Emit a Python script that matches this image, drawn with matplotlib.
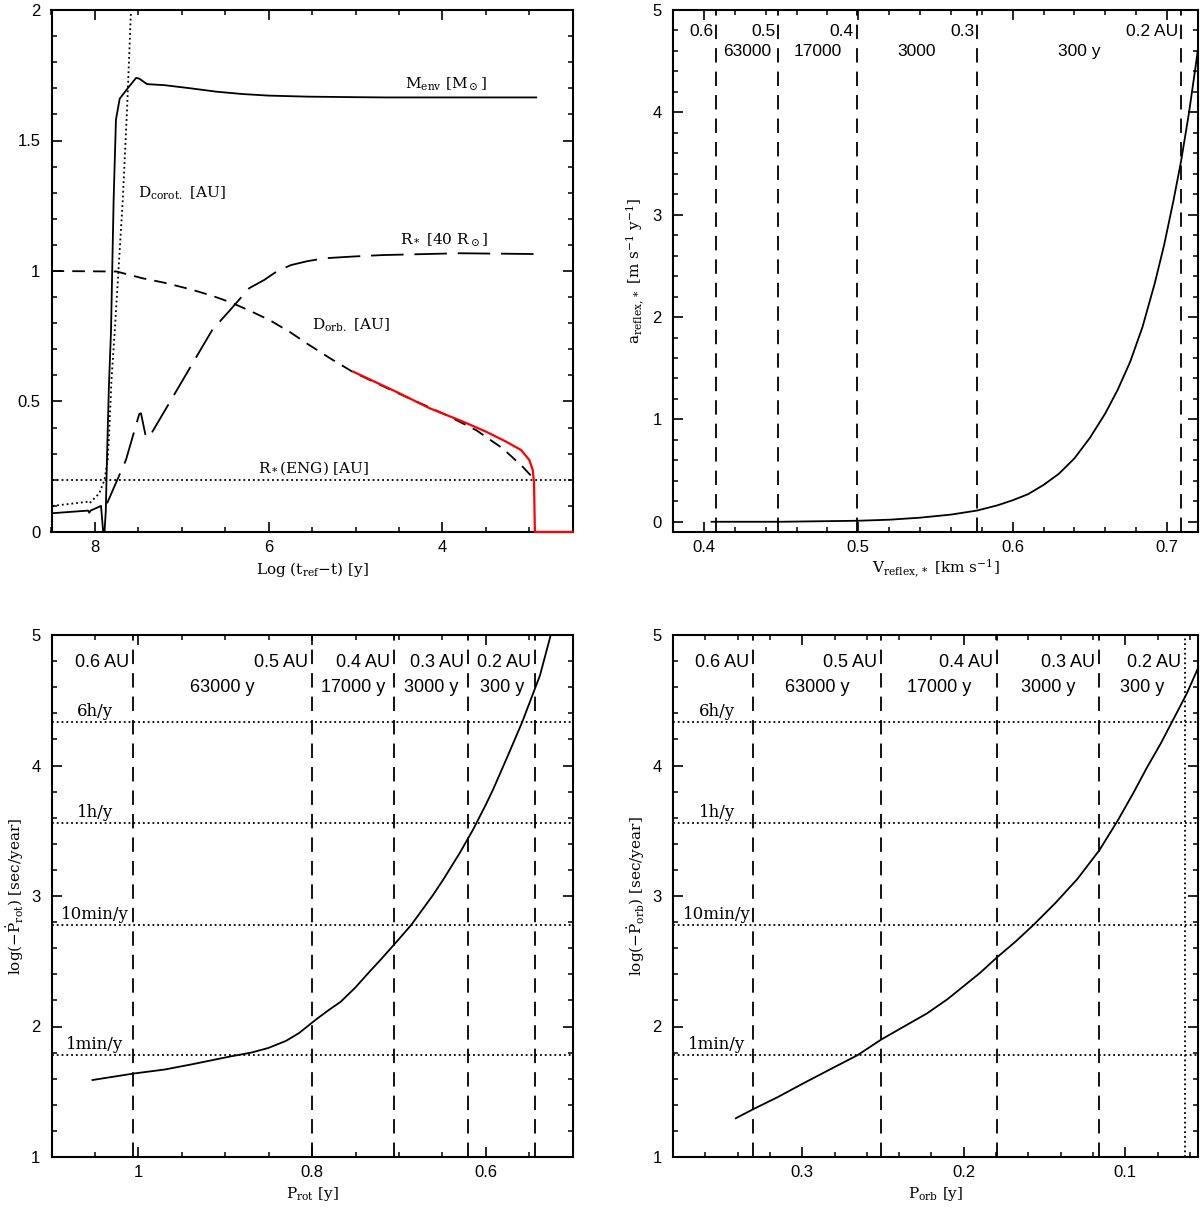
import matplotlib
matplotlib.use("Agg")
import matplotlib.pyplot as plt
from matplotlib.ticker import MultipleLocator, FuncFormatter

# ---- top-left: evolution with Log(t_ref - t) ----
t_menv = [8.49, 8.08, 8.065, 8.05, 7.93, 7.905, 7.89, 7.875, 7.86, 7.84, 7.815, 7.785,
          7.758, 7.715, 7.623, 7.526, 7.49, 7.40, 7.2, 6.9, 6.6, 6.3, 6.0, 5.55, 5.0,
          4.66, 3.5, 2.92]
menv = [0.072, 0.082, 0.074, 0.082, 0.10, 0.0, 0.0, 0.08, 0.3, 0.55, 0.77, 1.27,
        1.58, 1.66, 1.70, 1.74, 1.737, 1.716, 1.712, 1.70, 1.687, 1.678, 1.672, 1.668, 1.666,
        1.665, 1.665, 1.665]

t_corot = [8.49, 8.08, 8.06, 7.95, 7.89, 7.853, 7.835, 7.81, 7.77, 7.735, 7.68, 7.63, 7.585]
dcorot = [0.10, 0.116, 0.111, 0.148, 0.20, 0.276, 0.39, 0.58, 0.78, 0.97, 1.27, 1.62, 2.0]

t_rstar = [7.86, 7.643, 7.49, 7.47, 7.414, 7.376, 6.65, 6.445, 6.225, 6.05, 5.9, 5.74, 5.55,
           5.35, 5.0, 4.69, 3.81, 2.92]
rstar = [0.11, 0.276, 0.452, 0.455, 0.365, 0.363, 0.774, 0.85, 0.934, 0.966, 1.0, 1.023, 1.038,
         1.049, 1.056, 1.061, 1.068, 1.065]

t_dorb = [8.5, 7.75, 7.6, 7.45, 7.2, 6.9, 6.65, 6.43, 6.2, 5.99, 5.75, 5.55, 5.29, 5.025,
          4.5, 3.954, 3.61, 3.305, 3.076, 2.953]
dorb = [1.0, 0.998, 0.985, 0.972, 0.955, 0.93, 0.905, 0.879, 0.845, 0.812, 0.765, 0.72, 0.665,
        0.612, 0.53, 0.448, 0.39, 0.32, 0.25, 0.206]

t_red = [5.025, 4.53, 4.146, 3.764, 3.495, 3.266, 3.094, 3.0, 2.96, 2.945, 2.938, 2.935, 2.5]
dorb_red = [0.614, 0.537, 0.474, 0.423, 0.384, 0.346, 0.314, 0.276, 0.238, 0.187, 0.05, 0.0, 0.0]

r_eng = 0.2

# ---- top-right: reflex acceleration vs reflex velocity ----
v_reflex = [0.405, 0.45, 0.50, 0.52, 0.54, 0.56, 0.577, 0.59, 0.60, 0.61, 0.62, 0.63, 0.64,
            0.65, 0.66, 0.668, 0.676, 0.684, 0.692, 0.698, 0.704, 0.709, 0.714, 0.718, 0.72]
a_reflex = [0.0, 0.0, 0.01, 0.02, 0.04, 0.07, 0.11, 0.16, 0.21, 0.27, 0.36, 0.47, 0.62,
            0.82, 1.06, 1.29, 1.56, 1.90, 2.33, 2.70, 3.13, 3.52, 3.98, 4.40, 4.62]
v_lines = [0.408, 0.448, 0.499, 0.577, 0.709]
tr_au_labels = ["0.6", "0.5", "0.4", "0.3", "0.2 AU"]
tr_age_labels = ["63000", "17000", "3000", "300 y"]

# ---- bottom-left: rotation period derivative ----
p_rot = [1.0528, 1.005, 0.97, 0.9385, 0.8945, 0.87, 0.8506, 0.83, 0.815, 0.7943, 0.78, 0.767,
         0.75, 0.7366, 0.72, 0.70, 0.6857, 0.6616, 0.6486, 0.63, 0.6146, 0.60, 0.5914, 0.575,
         0.5583, 0.5377, 0.5253]
pdot_rot = [1.59, 1.64, 1.67, 1.71, 1.77, 1.80, 1.835, 1.89, 1.95, 2.06, 2.13, 2.19,
            2.30, 2.40, 2.52, 2.67, 2.78, 3.0, 3.13, 3.33, 3.51, 3.70, 3.82, 4.07,
            4.33, 4.69, 5.0]
prot_lines = [1.006, 0.800, 0.706, 0.620, 0.5435]

# ---- bottom-right: orbital period derivative ----
p_orb = [0.3411, 0.3304, 0.315, 0.30, 0.283, 0.2658, 0.2511, 0.237, 0.2228, 0.21, 0.20,
         0.19, 0.1794, 0.168, 0.1567, 0.143, 0.1297, 0.1161, 0.1046, 0.095, 0.0868, 0.078,
         0.070, 0.062, 0.0545]
pdot_orb = [1.297, 1.366, 1.46, 1.56, 1.67, 1.78, 1.90, 2.00, 2.10, 2.21, 2.31,
            2.41, 2.53, 2.65, 2.78, 2.95, 3.13, 3.35, 3.58, 3.79, 3.98, 4.17,
            4.36, 4.55, 4.76]
porb_lines = [0.3304, 0.2511, 0.1794, 0.1161, 0.0628]

au_labels = ["0.6 AU", "0.5 AU", "0.4 AU", "0.3 AU", "0.2 AU"]
age_labels = ["63000 y", "17000 y", "3000 y", "300 y"]
rate_levels = [4.334, 3.556, 2.778, 1.778]
rate_labels = ["6h/y", "1h/y", "10min/y", "1min/y"]

plt.rcParams.update({
    "font.family": "Liberation Sans",
    "font.size": 12,
    "mathtext.fontset": "dejavuserif",
    "axes.linewidth": 1.5,
    "xtick.direction": "in",
    "ytick.direction": "in",
    "xtick.top": True,
    "ytick.right": True,
    "xtick.major.size": 7,
    "ytick.major.size": 7,
    "xtick.minor.size": 3.6,
    "ytick.minor.size": 3.6,
    "xtick.major.width": 1.2,
    "ytick.major.width": 1.2,
    "xtick.minor.width": 1.1,
    "ytick.minor.width": 1.1,
    "xtick.major.pad": 6,
    "ytick.major.pad": 8,
})

W, H = 1200, 1208
SERIF = "DejaVu Serif"
LW = 1.3
SHORT_DASH = (0, (7, 4.5))
LONG_DASH = (0, (18, 6))
VDASH = (0, (8, 5))


def box(left, right, top, bottom):
    return [left / W, 1 - bottom / H, (right - left) / W, (bottom - top) / H]


def style_axes(ax, xmaj, xmin, ymaj, ymin):
    ax.xaxis.set_major_locator(MultipleLocator(xmaj))
    ax.xaxis.set_minor_locator(MultipleLocator(xmin))
    ax.yaxis.set_major_locator(MultipleLocator(ymaj))
    ax.yaxis.set_minor_locator(MultipleLocator(ymin))
    fmt = FuncFormatter(lambda v, p: f"{v:g}")
    ax.xaxis.set_major_formatter(fmt)
    ax.yaxis.set_major_formatter(fmt)
    ax.tick_params(which="both", top=True, right=True)


def set_labels(ax, xlabel, ylabel=None):
    ax.set_xlabel(xlabel, family=SERIF, fontsize=11)
    ax.xaxis.set_label_coords(0.5, -0.071)
    ax.xaxis.label.set_va("center")
    if ylabel:
        ax.set_ylabel(ylabel, family=SERIF, fontsize=11)
        ax.yaxis.set_label_coords(-0.07, 0.5)
        ax.yaxis.label.set_va("center")


fig = plt.figure(figsize=(W / 100, H / 100), dpi=100)

# top-left
ax = fig.add_axes(box(51.5, 572.7, 10, 532))
ax.plot(t_menv, menv, "k-", lw=LW)
ax.plot(t_corot, dcorot, "k:", lw=LW)
ax.plot(t_rstar, rstar, color="k", ls=LONG_DASH, lw=LW)
ax.plot(t_dorb, dorb, color="k", ls=SHORT_DASH, lw=LW)
ax.plot(t_red, dorb_red, color="red", lw=LW + 0.3, clip_on=False, zorder=3)
ax.axhline(r_eng, color="k", ls=":", lw=LW)
ax.set_xlim(8.5, 2.5)
ax.set_ylim(0, 2)
style_axes(ax, 2, 0.5, 0.5, 0.1)
set_labels(ax, r"Log (t$_{\rm ref}$$-$t) [y]")
txt = dict(family=SERIF, fontsize=11, ha="left", va="baseline")
ax.text(4.43, 1.70, r"M$_{\rm env}$ [M$_\odot$]", **txt)
ax.text(7.50, 1.28, r"D$_{\rm corot.}$ [AU]", **txt)
ax.text(4.49, 1.10, r"R$_*$ [40 R$_\odot$]", **txt)
ax.text(5.50, 0.775, r"D$_{\rm orb.}$ [AU]", **txt)
ax.text(6.12, 0.226, r"R$_*$(ENG) [AU]", **txt)

# top-right
ax = fig.add_axes(box(673, 1198, 10, 532))
ax.plot(v_reflex, a_reflex, "k-", lw=LW)
for v in v_lines:
    ax.axvline(v, color="k", ls=VDASH, lw=LW)
ax.set_xlim(0.38, 0.72)
ax.set_ylim(-0.1, 5)
style_axes(ax, 0.1, 0.02, 1, 0.2)
set_labels(ax, r"V$_{\rm reflex,*}$ [km s$^{-1}$]",
           r"a$_{\rm reflex,*}$ [m s$^{-1}$ y$^{-1}$]")
for v, lab in zip(v_lines, tr_au_labels):
    ax.annotate(lab, xy=(v, 4.79), xytext=(-2, 0), textcoords="offset points",
                ha="right", va="center", fontsize=12.5)
for v0, v1, lab in zip(v_lines[:-1], v_lines[1:], tr_age_labels):
    ax.text((v0 + v1) / 2, 4.59, lab, ha="center", va="center", fontsize=12.5)


def period_panel(ax, xs, ys, lines, styles, rate_x):
    ax.plot(xs, ys, "k-", lw=LW)
    for x, ls in zip(lines, styles):
        ax.axvline(x, color="k", ls=ls, lw=LW)
    for lev, lab in zip(rate_levels, rate_labels):
        ax.axhline(lev, color="k", ls=":", lw=LW)
        ax.annotate(lab, xy=(rate_x, lev), xytext=(0, 1.5), textcoords="offset points",
                    ha="center", va="bottom", family=SERIF, fontsize=12)
    for x, lab in zip(lines, au_labels):
        ax.annotate(lab, xy=(x, 4.79), xytext=(-3, 0), textcoords="offset points",
                    ha="right", va="center", fontsize=13)
    for x0, x1, lab in zip(lines[:-1], lines[1:], age_labels):
        ax.text((x0 + x1) / 2, 4.6, lab, ha="center", va="center", fontsize=13)
    ax.set_ylim(1, 5)


# bottom-left
ax = fig.add_axes(box(51.5, 572.7, 635, 1157))
period_panel(ax, p_rot, pdot_rot, prot_lines, [VDASH] * 5, 1.05)
ax.set_xlim(1.1, 0.5)
style_axes(ax, 0.2, 0.05, 1, 0.2)
set_labels(ax, r"P$_{\rm rot}$ [y]", r"log($-\dot{\rm P}_{\rm rot}$) [sec/year]")

# bottom-right
ax = fig.add_axes(box(673, 1198, 635, 1157))
period_panel(ax, p_orb, pdot_orb, porb_lines, [VDASH] * 4 + [":"], 0.353)
ax.set_xlim(0.38, 0.055)
style_axes(ax, 0.1, 0.02, 1, 0.2)
set_labels(ax, r"P$_{\rm orb}$ [y]", r"log($-\dot{\rm P}_{\rm orb}$) [sec/year]")

fig.savefig("out.png", dpi=100)
